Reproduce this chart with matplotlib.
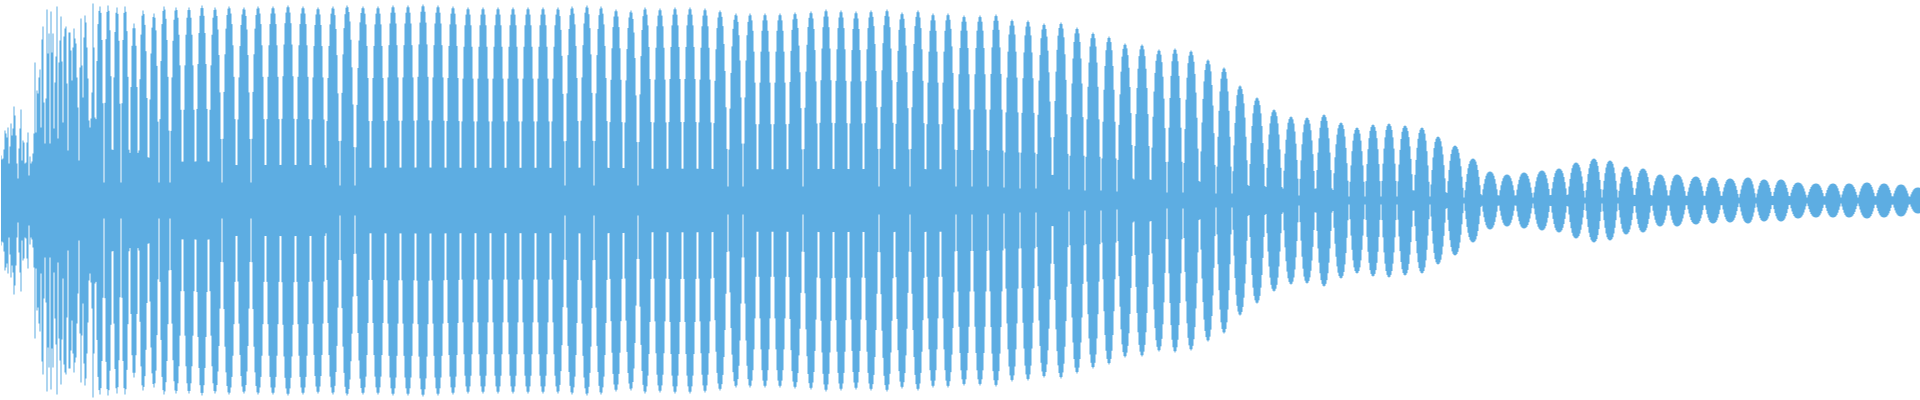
import numpy as np
import matplotlib
matplotlib.use("Agg")
import matplotlib.pyplot as plt

WAVE_COLOR = "#5dade2"
WIDTH = 1920

# noisy attack at the start, half-height per pixel column (px from centre)
EARLY_AMP = [45, 41, 42, 51, 70, 67, 63, 73, 37, 54,
             77, 65, 72, 94, 85, 65, 37, 22, 52, 72,
             91, 40, 60, 58, 37, 38, 58, 68, 25, 44,
             37, 39, 47, 67, 138, 68, 110, 107, 123, 131,
             73, 161, 174, 98, 57, 102, 191, 147, 167, 57,
             189, 148, 167, 72, 118, 144, 194, 62, 138, 160,
             184, 139, 78, 164, 172, 174, 117, 50, 168, 168,
             150, 120, 153, 172, 162, 157, 123, 93, 40, 133,
             182, 135, 103, 163, 185, 178, 153, 122, 80, 73,
             82, 108, 197, 153, 83]

# beat lobes after the attack: centre column, peak half-height, floor between lobes
LOBE_CENTER = [99, 107, 116, 124, 133, 142, 153, 163, 175, 188, 201, 214, 228, 243, 257, 272, 287, 302, 317,
               332, 346, 362, 377, 392, 407, 422, 437, 452, 467, 482, 497, 512, 527, 542, 557, 571, 586, 600, 615, 630,
               644, 659, 674, 689, 704, 719, 735, 749, 764, 779, 794, 810, 825, 840, 855, 870, 886, 901, 917, 932, 947,
               963, 979, 995, 1011, 1027, 1043, 1060, 1076, 1092, 1108, 1124, 1141, 1158, 1174, 1190, 1207, 1223, 1239, 1256, 1273,
               1290, 1306, 1323, 1340, 1356, 1372, 1388, 1404, 1421, 1437, 1454, 1472, 1489, 1506, 1523, 1541, 1558, 1575, 1593,
               1609, 1625, 1642, 1659, 1676, 1695, 1712, 1729, 1747, 1763, 1780, 1797, 1815, 1832, 1848, 1866, 1883, 1900, 1917]
LOBE_PEAK = [194, 195, 193, 194, 177, 190, 187, 194, 193, 193, 195, 193, 194, 193, 194, 194, 195, 194, 193,
             194, 195, 194, 194, 195, 195, 196, 195, 194, 193, 193, 193, 193, 193, 193, 193, 194, 195, 194, 191, 190,
             193, 192, 193, 193, 192, 190, 187, 187, 187, 187, 188, 189, 191, 190, 189, 190, 191, 188, 190, 187, 187,
             185, 185, 186, 181, 180, 177, 178, 173, 168, 164, 157, 156, 151, 152, 150, 141, 133, 115, 103, 91,
             84, 83, 86, 78, 73, 76, 77, 75, 73, 64, 55, 42, 29, 26, 28, 30, 32, 38, 42,
             40, 34, 32, 26, 26, 24, 23, 22, 23, 21, 21, 18, 17, 17, 17, 18, 17, 16, 13]
LOBE_FLOOR = [18, 18, 18, 18, 18, 18, 18, 18, 18, 18, 18, 18, 18, 18, 18, 18, 18, 18, 18,
              15, 15, 15, 15, 15, 15, 15, 15, 15, 15, 15, 15, 15, 15, 15, 15, 15, 15, 15, 15, 15,
              14, 14, 14, 14, 14, 14, 14, 14, 14, 14, 14, 14, 14, 14, 14, 14, 14, 14, 14, 14, 14,
              14, 14, 13, 12, 12, 11, 11, 10, 10, 9, 9, 8, 8, 8, 7, 7, 7, 6, 6, 6,
              5, 5, 5, 4, 4, 4, 4, 4, 4, 3, 3, 3, 3, 3, 3, 3, 3, 3, 3,
              3, 3, 3, 3, 3, 3, 3, 3, 3, 3, 3, 3, 3, 3, 3, 3, 3, 3, 3]

PROFILE_D = [0, 0.133, 0.267, 0.4, 0.533, 0.667, 0.8, 0.933, 1.0]
PROFILE_F = [1, 0.99, 0.96, 0.9, 0.78, 0.6, 0.36, 0.1, 0]

x = np.arange(WIDTH)
env = np.zeros(WIDTH)
env[:len(EARLY_AMP)] = EARLY_AMP

centers = np.array(LOBE_CENTER, dtype=float)
peaks = np.array(LOBE_PEAK, dtype=float)
floors = np.array(LOBE_FLOOR, dtype=float)
mids = (centers[:-1] + centers[1:]) / 2
left = np.concatenate([[len(EARLY_AMP) - 1], mids])
right = np.concatenate([mids, [centers[-1] + (centers[-1] - centers[-2]) / 2]])

cols = x[len(EARLY_AMP):]
idx = np.searchsorted(mids, cols)
c = centers[idx]
half = np.where(cols < c, c - left[idx], right[idx] - c)
d = np.abs(cols - c) / half
f = np.interp(d, PROFILE_D, PROFILE_F)
env[len(EARLY_AMP):] = floors[idx] + (peaks[idx] - floors[idx]) * f

fig = plt.figure(figsize=(19.2, 4), dpi=100)
ax = fig.add_axes([0, 0, 1, 1])
ax.fill_between(x, -env, env, step="mid", color=WAVE_COLOR, linewidth=0)
ax.set_xlim(-0.5, WIDTH - 0.5)
ax.set_ylim(-200, 200)
ax.axis("off")

fig.savefig("out.png", dpi=100)
